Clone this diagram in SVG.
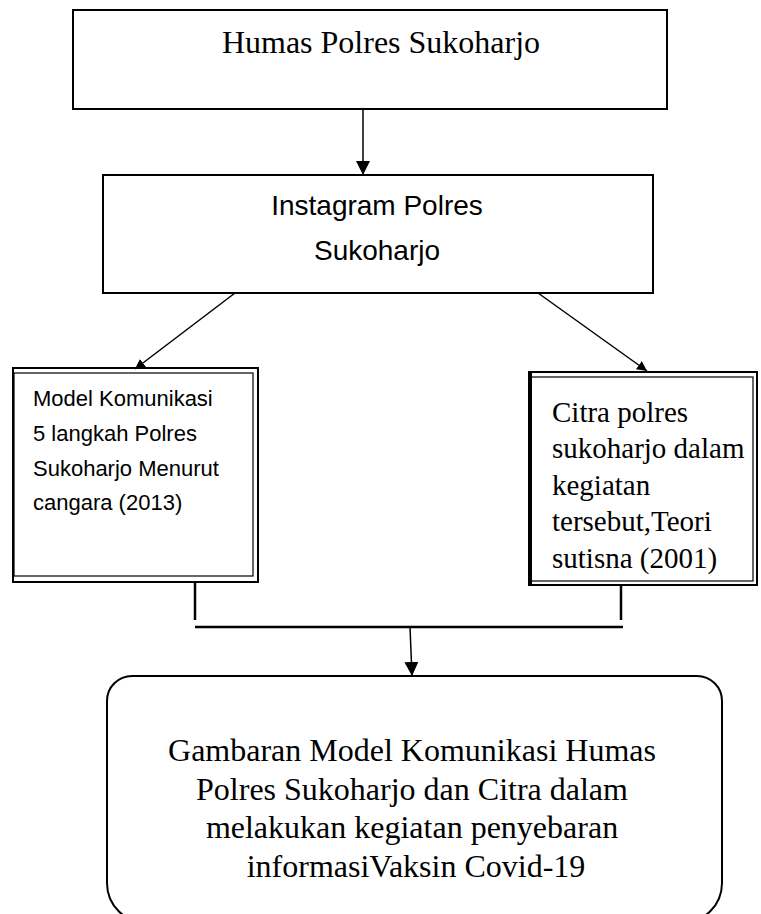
<svg xmlns="http://www.w3.org/2000/svg" width="761" height="914" viewBox="0 0 761 914">
<style>
.box{fill:#fff;stroke:#000;stroke-width:2}
.thin{fill:none;stroke:#000;stroke-width:1.2}
.serif{font-family:"Liberation Serif","Times New Roman",serif;fill:#000}
.sans{font-family:"Liberation Sans",Arial,sans-serif;fill:#000}
.conn{fill:none;stroke:#000;stroke-width:1.5}
.bar{fill:none;stroke:#000;stroke-width:2.5}
</style>
<defs>
<marker id="ah" markerUnits="userSpaceOnUse" markerWidth="16" markerHeight="16" refX="14" refY="7" orient="auto">
<path d="M0,0 L14,7 L0,14 z" fill="#000"/>
</marker>
<marker id="ahs" markerUnits="userSpaceOnUse" markerWidth="12" markerHeight="12" refX="10" refY="5" orient="auto">
<path d="M0,0 L10,5 L0,10 z" fill="#000"/>
</marker>
</defs>
<g id="humas">
<rect class="box" x="73" y="10" width="594" height="99" stroke-width="2.5"/>
<text class="serif" x="381" y="53" font-size="32" text-anchor="middle">Humas Polres Sukoharjo</text>
</g>
<g id="instagram">
<rect class="box" x="103" y="175" width="550" height="118"/>
<text class="sans" x="377" y="215" font-size="28" text-anchor="middle">Instagram Polres</text>
<text class="sans" x="377" y="260" font-size="28" text-anchor="middle">Sukoharjo</text>
</g>
<g id="model">
<rect class="box" x="13" y="368" width="245" height="214" stroke-width="2.2"/>
<rect class="thin" x="14" y="373" width="239" height="203"/>
<text class="sans" font-size="22">
<tspan x="33" y="406">Model Komunikasi</tspan>
<tspan x="33" y="441">5 langkah Polres</tspan>
<tspan x="33" y="476">Sukoharjo Menurut</tspan>
<tspan x="33" y="510">cangara (2013)</tspan>
</text>
</g>
<g id="citra">
<rect class="box" x="529" y="372" width="228" height="213" stroke-width="2.5"/>
<rect class="thin" x="531" y="377" width="222" height="204"/>
<line x1="530" y1="372" x2="530" y2="585" stroke="#000" stroke-width="4"/>
<text class="serif" font-size="29">
<tspan x="552" y="422">Citra polres</tspan>
<tspan x="552" y="458">sukoharjo dalam</tspan>
<tspan x="552" y="495">kegiatan</tspan>
<tspan x="552" y="531">tersebut,Teori</tspan>
<tspan x="552" y="568">sutisna (2001)</tspan>
</text>
</g>
<g id="gambaran">
<path class="box" d="M132,676 H697 A25,25 0 0 1 722,701 V883 A40,40 0 0 1 682,923 H147 A40,40 0 0 1 107,883 V701 A25,25 0 0 1 132,676 Z"/>
<text class="serif" font-size="32" text-anchor="middle">
<tspan x="416" y="761">Gambaran Model Komunikasi Humas</tspan>
<tspan x="416" y="799.5">Polres Sukoharjo dan Citra dalam</tspan>
<tspan x="416" y="838">melakukan kegiatan penyebaran</tspan>
<tspan x="416" y="877">informasiVaksin Covid-19</tspan>
</text>
</g>
<g id="connectors">
<line class="conn" x1="363" y1="109" x2="363" y2="175" marker-end="url(#ah)"/>
<line class="conn" x1="235" y1="293" x2="135" y2="369" marker-end="url(#ahs)"/>
<line class="conn" x1="538" y1="293" x2="647" y2="371" marker-end="url(#ahs)"/>
<line class="bar" x1="195" y1="582" x2="195" y2="620"/>
<line class="bar" x1="621" y1="585" x2="621" y2="620"/>
<line class="bar" x1="195" y1="627" x2="623" y2="627"/>
<line class="conn" x1="410" y1="627" x2="412" y2="676" stroke-width="2" marker-end="url(#ah)"/>
</g>
</svg>
